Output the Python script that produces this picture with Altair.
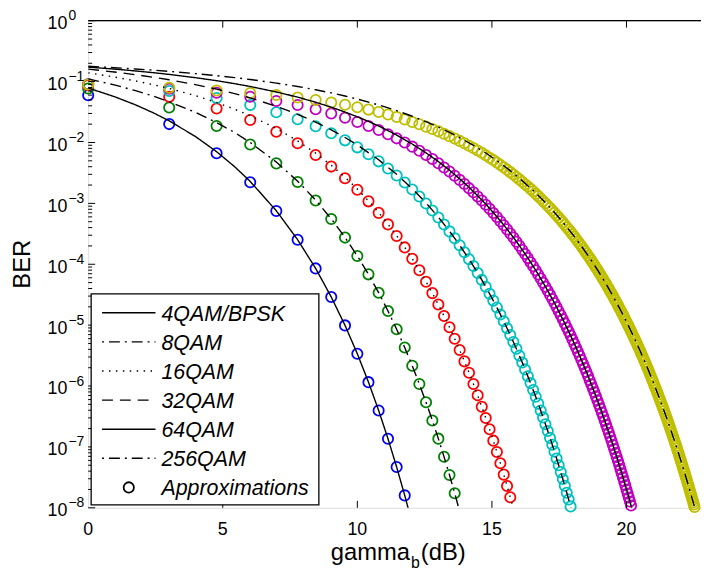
import math
import altair as alt
import pandas as pd

# ---------------- data: log10(BER) ----------------
series_names = ["4QAM/BPSK", "8QAM", "16QAM", "32QAM", "64QAM", "256QAM"]
marker_colors = ["#0000FF", "#008000", "#FF0000", "#00BFBF", "#BF00BF", "#BFBF00"]

x_tick_db = [0, 5, 10, 15, 20]
x_tick_labels = ["0", "5", "10", "15", "20"]
y_decades = [0, -1, -2, -3, -4, -5, -6, -7, -8]
y_exponent_labels = ["0", "\u22121", "\u22122", "\u22123", "\u22124", "\u22125", "\u22126", "\u22127", "\u22128"]
legend_labels = ["4QAM/BPSK", "8QAM", "16QAM", "32QAM", "64QAM", "256QAM", "Approximations"]

# approximation markers, at linear gamma_b = 1, 2, 3, ...
bpsk_approx = [-1.225, -1.698, -2.176, -2.652, -3.126, -3.598, -4.068, -4.537, -5.004, -5.470,
               -5.936, -6.401, -6.866, -7.331, -7.796]
qam8_approx = [-1.114, -1.424, -1.729, -2.034, -2.343, -2.648, -2.954, -3.258, -3.562, -3.864,
               -4.166, -4.467, -4.768, -5.068, -5.368, -5.668, -5.967, -6.266, -6.565, -6.864,
               -7.163, -7.462, -7.760]
qam16_approx = [-1.059, -1.248, -1.443, -1.632, -1.823, -2.013, -2.204, -2.396, -2.587, -2.777,
                -2.967, -3.156, -3.345, -3.535, -3.723, -3.911, -4.098, -4.286, -4.474, -4.662,
                -4.849, -5.035, -5.222, -5.409, -5.595, -5.781, -5.967, -6.153, -6.339, -6.526,
                -6.711, -6.897, -7.083, -7.269, -7.455, -7.641, -7.828]
qam32_approx = [-1.043, -1.154, -1.270, -1.386, -1.504, -1.619, -1.733, -1.849, -1.965, -2.080,
                -2.194, -2.310, -2.426, -2.542, -2.657, -2.772, -2.887, -3.002, -3.116, -3.231,
                -3.346, -3.460, -3.574, -3.688, -3.802, -3.916, -4.029, -4.143, -4.257, -4.370,
                -4.484, -4.597, -4.710, -4.824, -4.937, -5.050, -5.163, -5.276, -5.388, -5.501,
                -5.614, -5.727, -5.839, -5.952, -6.065, -6.177, -6.289, -6.402, -6.515, -6.627,
                -6.740, -6.852, -6.964, -7.077, -7.189, -7.302, -7.414, -7.527, -7.639, -7.752,
                -7.865, -7.977]
qam64_approx = [-1.042, -1.116, -1.182, -1.249, -1.318, -1.384, -1.454, -1.524, -1.594, -1.662,
                -1.728, -1.796, -1.864, -1.932, -2.000, -2.068, -2.136, -2.204, -2.272, -2.341,
                -2.410, -2.478, -2.547, -2.614, -2.682, -2.750, -2.818, -2.887, -2.954, -3.022,
                -3.090, -3.158, -3.225, -3.293, -3.360, -3.427, -3.495, -3.562, -3.630, -3.697,
                -3.765, -3.832, -3.899, -3.966, -4.033, -4.100, -4.167, -4.235, -4.302, -4.369,
                -4.436, -4.503, -4.570, -4.637, -4.704, -4.771, -4.838, -4.904, -4.971, -5.038,
                -5.105, -5.171, -5.238, -5.305, -5.371, -5.438, -5.504, -5.571, -5.638, -5.704,
                -5.771, -5.837, -5.904, -5.970, -6.037, -6.103, -6.170, -6.236, -6.303, -6.369,
                -6.435, -6.502, -6.568, -6.635, -6.701, -6.768, -6.834, -6.900, -6.967, -7.033,
                -7.100, -7.166, -7.233, -7.299, -7.365, -7.432, -7.498, -7.565, -7.631, -7.698,
                -7.764, -7.830, -7.897, -7.963]
qam256_approx = [-1.047, -1.102, -1.147, -1.186, -1.221, -1.261, -1.302, -1.342, -1.381, -1.420,
                 -1.460, -1.500, -1.541, -1.580, -1.622, -1.662, -1.701, -1.740, -1.778, -1.817,
                 -1.857, -1.896, -1.936, -1.974, -2.014, -2.053, -2.092, -2.131, -2.170, -2.210,
                 -2.250, -2.289, -2.329, -2.368, -2.408, -2.447, -2.487, -2.527, -2.566, -2.606,
                 -2.645, -2.685, -2.723, -2.762, -2.802, -2.841, -2.881, -2.920, -2.960, -2.999,
                 -3.038, -3.078, -3.117, -3.156, -3.195, -3.234, -3.273, -3.312, -3.351, -3.391,
                 -3.429, -3.468, -3.508, -3.546, -3.586, -3.625, -3.663, -3.702, -3.742, -3.781,
                 -3.820, -3.859, -3.897, -3.936, -3.975, -4.014, -4.052, -4.091, -4.130, -4.169,
                 -4.208, -4.247, -4.286, -4.325, -4.364, -4.403, -4.442, -4.480, -4.519, -4.558,
                 -4.597, -4.636, -4.674, -4.713, -4.752, -4.790, -4.829, -4.868, -4.906, -4.945,
                 -4.984, -5.022, -5.061, -5.100, -5.138, -5.177, -5.216, -5.254, -5.293, -5.331,
                 -5.370, -5.408, -5.447, -5.485, -5.524, -5.563, -5.601, -5.640, -5.678, -5.717,
                 -5.755, -5.794, -5.832, -5.871, -5.909, -5.948, -5.986, -6.025, -6.063, -6.102,
                 -6.140, -6.179, -6.217, -6.255, -6.294, -6.332, -6.371, -6.409, -6.448, -6.486,
                 -6.525, -6.563, -6.602, -6.640, -6.678, -6.717, -6.755, -6.794, -6.832, -6.871,
                 -6.909, -6.948, -6.986, -7.024, -7.063, -7.101, -7.140, -7.178, -7.217, -7.255,
                 -7.293, -7.332, -7.370, -7.409, -7.447, -7.486, -7.524, -7.563, -7.601, -7.639,
                 -7.678, -7.716, -7.755, -7.793, -7.832, -7.870, -7.909, -7.947, -7.986]

# exact curves (black lines): linear gamma_b and log10(BER)
low_gamma = [1, 1.25, 1.5, 1.75, 2, 2.5, 3, 3.5, 4]
bpsk_line_gamma = low_gamma + list(range(5, 17))
bpsk_line = [-1.105, -1.246, -1.382, -1.515, -1.645, -1.900, -2.151, -2.397, -2.640, -3.121,
             -3.596, -4.068, -4.537, -5.004, -5.470, -5.936, -6.401, -6.866, -7.331, -7.796, -8.261]
qam8_line_gamma = low_gamma + list(range(5, 25))
qam8_line = [-0.956, -1.054, -1.149, -1.240, -1.330, -1.504, -1.673, -1.836, -2.000, -2.321,
             -2.635, -2.946, -3.254, -3.559, -3.863] + qam8_approx[10:23] + [-8.060]
qam16_line_gamma = low_gamma + list(range(5, 38)) + [38, 39]
qam16_line = [-0.856, -0.924, -0.989, -1.052, -1.113, -1.230, -1.343, -1.453, -1.560, -1.770,
              -1.974, -2.175, -2.374, -2.571, -2.765, -2.958, -3.150, -3.341, -3.532, -3.721,
              -3.910] + qam16_approx[16:37] + [-8.014, -8.200]
qam32_line_gamma = low_gamma + [5, 6, 7, 8, 9, 10, 12, 14, 16, 18, 20, 22, 24] + list(range(26, 63)) + [64]
qam32_line = [-0.795, -0.842, -0.887, -0.929, -0.970, -1.049, -1.124, -1.197, -1.268, -1.405,
              -1.537, -1.666, -1.793, -1.918, -2.041, -2.283, -2.523, -2.759, -2.993, -3.225,
              -3.456, -3.686] + qam32_approx[25:62] + [-8.202]
qam64_line_gamma = (low_gamma + list(range(5, 15)) + list(range(16, 45, 2))
                    + list(range(46, 105)) + [105, 106])
qam64_line = [-0.762, -0.794, -0.825, -0.854, -0.882, -0.935, -0.985, -1.034, -1.080, -1.170,
              -1.255, -1.339, -1.420, -1.500, -1.578, -1.654, -1.730, -1.805, -1.879, -2.025,
              -2.170, -2.313, -2.455, -2.596, -2.735, -2.875, -3.012, -3.150, -3.287, -3.423,
              -3.559, -3.695, -3.830, -3.965] + qam64_approx[45:104] + [-8.030, -8.096]
qam256_line_gamma = (low_gamma + [5, 6, 7, 8, 9, 10, 12, 14, 16, 18, 20, 22, 24, 27, 30, 33, 36,
                                  40, 45, 50, 55, 60, 65, 70, 75] + list(range(77, 180)) + [180, 182])
qam256_line = [-0.747, -0.772, -0.792, -0.813, -0.832, -0.868, -0.902, -0.934, -0.965, -1.024,
               -1.080, -1.134, -1.186, -1.237, -1.287, -1.384, -1.477, -1.569, -1.659, -1.747,
               -1.834, -1.920, -2.047, -2.173, -2.298, -2.422, -2.585, -2.788, -2.988, -3.188,
               -3.386, -3.583, -3.779, -3.974] + qam256_approx[76:179] + [-8.024, -8.101]

approx_sets = [bpsk_approx, qam8_approx, qam16_approx, qam32_approx, qam64_approx, qam256_approx]
line_sets = [(bpsk_line_gamma, bpsk_line), (qam8_line_gamma, qam8_line), (qam16_line_gamma, qam16_line),
             (qam32_line_gamma, qam32_line), (qam64_line_gamma, qam64_line), (qam256_line_gamma, qam256_line)]

markers_df = pd.concat([
    pd.DataFrame({"gamma": list(range(1, len(v) + 1)), "log_ber": v, "series": name})
    for name, v in zip(series_names, approx_sets)
], ignore_index=True)
lines_df = pd.concat([
    pd.DataFrame({"gamma": g, "log_ber": v, "series": name})
    for name, (g, v) in zip(series_names, line_sets)
], ignore_index=True)

# ---------------- layout / style ----------------
W, H = 619, 492
FONT = "Liberation Sans"
MSIZE = 108
MSTROKE = 1.8
dash_patterns = [[1, 0], [11, 5, 2, 5], [1.5, 5.5], [11, 7], [1, 0], [11, 5, 2, 5]]
legend_dash_offset = [0, 16, 0, 0, 0, 16]
dotted = [1.5, 6.7]
grid_color = "#111111"

x_scale = alt.Scale(type="log", domain=[1, 189.2], nice=False)
y_scale = alt.Scale(type="linear", domain=[-8, 0], nice=False, zero=False)

x_tick_gamma = [10 ** (d / 10) for d in x_tick_db]
y_grid_vals = [e + math.log10(k) for e in range(-8, 0) for k in range(1, 10)] + [0]
y_minor_vals = [e + math.log10(k) for e in range(-8, 0) for k in range(2, 10)]

one = pd.DataFrame({"a": [0]})

markers = alt.Chart(markers_df).mark_point(
    shape="circle", filled=False, size=MSIZE, strokeWidth=MSTROKE, opacity=1
).encode(
    x=alt.X("gamma:Q", scale=x_scale, axis=alt.Axis(
        values=x_tick_gamma[1:], grid=True, gridDash=dotted, gridColor=grid_color, gridWidth=1,
        gridOpacity=0.85, labels=False, ticks=False, domain=True, domainColor="black",
        domainWidth=1.3, title=None)),
    y=alt.Y("log_ber:Q", scale=y_scale, axis=alt.Axis(
        values=y_grid_vals, grid=True, gridDash=dotted, gridColor=grid_color, gridWidth=1,
        gridOpacity=0.85, labels=False, ticks=False, domain=True, domainColor="black",
        domainWidth=1.3, title=None)),
    color=alt.Color("series:N", scale=alt.Scale(domain=series_names, range=marker_colors), legend=None),
)

lines = alt.Chart(lines_df).mark_line(clip=True, color="black", strokeWidth=1.4).encode(
    x=alt.X("gamma:Q", scale=x_scale, axis=None),
    y=alt.Y("log_ber:Q", scale=y_scale, axis=None),
    strokeDash=alt.StrokeDash("series:N", scale=alt.Scale(domain=series_names, range=dash_patterns), legend=None),
)

ydec_df = pd.DataFrame({"v": y_decades, "exp": y_exponent_labels, "base": ["10"] * len(y_decades)})
ymin_df = pd.DataFrame({"v": y_minor_vals})
xt_df = pd.DataFrame({"g": x_tick_gamma, "lab": x_tick_labels})
xt_in_df = xt_df.iloc[1:]

y_major_ticks = alt.Chart(ydec_df).mark_rule(color="black", strokeWidth=1).encode(
    y=alt.Y("v:Q", scale=y_scale, axis=None), x=alt.value(0), x2=alt.value(7))
y_minor_ticks = alt.Chart(ymin_df).mark_rule(color="black", strokeWidth=1).encode(
    y=alt.Y("v:Q", scale=y_scale, axis=None), x=alt.value(0), x2=alt.value(4))
x_ticks_bottom = alt.Chart(xt_in_df).mark_rule(color="black", strokeWidth=1).encode(
    x=alt.X("g:Q", scale=x_scale, axis=None), y=alt.value(H), y2=alt.value(H - 7))
x_ticks_top = alt.Chart(xt_in_df).mark_rule(color="black", strokeWidth=1).encode(
    x=alt.X("g:Q", scale=x_scale, axis=None), y=alt.value(0), y2=alt.value(7))
top_border = alt.Chart(one).mark_rule(color="black", strokeWidth=1.3).encode(
    x=alt.value(0), x2=alt.value(W), y=alt.value(0))

y_base_labels = alt.Chart(ydec_df).mark_text(
    align="left", baseline="alphabetic", fontSize=18, font=FONT, dy=8.5, color="black"
).encode(y=alt.Y("v:Q", scale=y_scale, axis=None), x=alt.value(-41), text="base:N")
y_exp_labels = alt.Chart(ydec_df).mark_text(
    align="left", baseline="alphabetic", fontSize=14, font=FONT, dy=-0.5, color="black"
).encode(y=alt.Y("v:Q", scale=y_scale, axis=None), x=alt.value(-20), text="exp:N")
x_labels = alt.Chart(xt_df).mark_text(
    align="center", baseline="alphabetic", fontSize=18, font=FONT, color="black"
).encode(x=alt.X("g:Q", scale=x_scale, axis=None), y=alt.value(H + 27), text="lab:N")

def text_at(txt, x, y, size, align="left", style="normal", angle=0, baseline="alphabetic"):
    return alt.Chart(pd.DataFrame({"t": [txt]})).mark_text(
        align=align, baseline=baseline, fontSize=size, font=FONT, fontStyle=style,
        angle=angle, color="black"
    ).encode(x=alt.value(x), y=alt.value(y), text="t:N")

x_title = [
    text_at("gamma", 325, H + 53, 24, align="right"),
    text_at("b", 326, H + 61, 16),
    text_at("(dB)", 336, H + 53, 24),
]
y_title = text_at("BER", -66, H / 2, 24, align="center", angle=270, baseline="middle")

# legend
row_y = [295 + 29.4 * i for i in range(len(legend_labels))]
legend_layers = [alt.Chart(one).mark_rect(fill="white", stroke="black", strokeWidth=1.3).encode(
    x=alt.value(3), x2=alt.value(233), y=alt.value(276), y2=alt.value(489))]
for i in range(6):
    legend_layers.append(alt.Chart(one).mark_rule(
        color="black", strokeWidth=1.4, strokeDash=dash_patterns[i],
        strokeDashOffset=legend_dash_offset[i]
    ).encode(x=alt.value(14), x2=alt.value(68), y=alt.value(row_y[i])))
legend_layers.append(alt.Chart(one).mark_point(
    shape="circle", filled=False, size=MSIZE, strokeWidth=MSTROKE, color="black", opacity=1
).encode(x=alt.value(41), y=alt.value(row_y[6])))
for i, lab in enumerate(legend_labels):
    legend_layers.append(text_at(lab, 74, row_y[i] + 8, 21.6, style="italic"))

chart = alt.layer(
    markers, lines, y_major_ticks, y_minor_ticks, x_ticks_bottom, x_ticks_top, top_border,
    y_base_labels, y_exp_labels, x_labels, *x_title, y_title, *legend_layers
).properties(
    width=W, height=H,
    padding={"left": 81, "top": 10, "right": 0, "bottom": 62},
    autosize=alt.AutoSizeParams(type="none"),
    background="white",
).configure_view(stroke="transparent").configure(font=FONT)

chart.save("out.html", embed_options={"renderer": "svg", "actions": False})
